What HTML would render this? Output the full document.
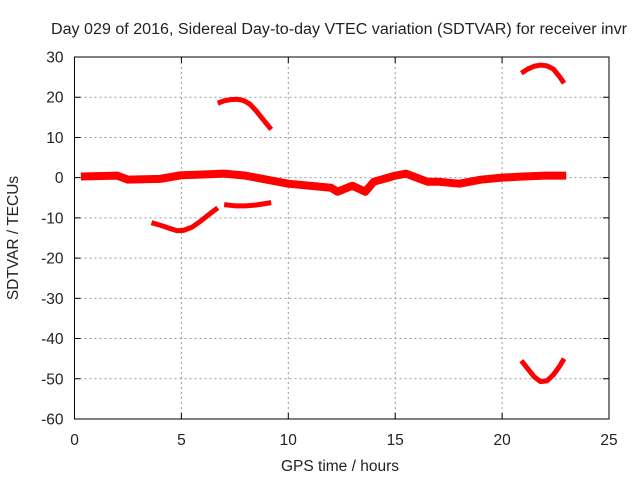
<!DOCTYPE html>
<html><head><meta charset="utf-8"><style>
body{margin:0;background:#fff}
svg{display:block;font-family:"Liberation Sans",sans-serif;font-size:15.5px;fill:#222}
</style></head><body>
<svg id="chart" width="640" height="480" viewBox="0 0 640 480">
<text x="339" y="34" text-anchor="middle" textLength="576" lengthAdjust="spacingAndGlyphs">Day 029 of 2016, Sidereal Day-to-day VTEC variation (SDTVAR) for receiver invr</text>
<text transform="translate(18,238) rotate(-90)" text-anchor="middle">SDTVAR / TECUs</text>
<text x="340" y="471" text-anchor="middle">GPS time / hours</text>
<g id="grid"></g><g id="series"></g><g id="axes"></g>
</svg>
<script>
const xTicks=[0,5,10,15,20,25];
const yTicks=[30,20,10,0,-10,-20,-30,-40,-50,-60];
const bandT=[0.3,2,2.5,4,5,6,7,8,9,10,11,12,12.3,13,13.6,14,15,15.5,16,16.5,17,18,19,20,21,22,23];
const bandV=[0.3,0.5,-0.5,-0.3,0.6,0.8,1,0.5,-0.5,-1.5,-2,-2.5,-3.5,-2,-3.5,-1,0.5,1,0,-1,-1,-1.5,-0.5,0,0.3,0.5,0.5];
const arcAT=[6.7,7,7.3,7.6,7.9,8.2,8.5,8.8,9.2];
const arcAV=[18.5,19.1,19.4,19.5,19.2,18.3,16.6,14.6,12];
const arcBT=[3.6,4,4.4,4.8,5.1,5.5,5.9,6.3,6.7];
const arcBV=[-11.2,-11.8,-12.5,-13.2,-13.1,-12.3,-10.8,-9.1,-7.5];
const arcCT=[7,7.5,8,8.5,9.2];
const arcCV=[-6.7,-7,-7,-6.8,-6.2];
const arcDT=[20.9,21.2,21.5,21.8,22.1,22.4,22.7,22.9];
const arcDV=[26,27,27.7,28,27.8,27,25,23.5];
const arcET=[20.9,21.2,21.5,21.8,22.1,22.4,22.7,22.9];
const arcEV=[-45.5,-47.5,-49.5,-50.7,-50.5,-49,-46.8,-45];
const L=74.5,R=609,T=57,B=419;
const sx=v=>L+(v-0)/25*(R-L), sy=v=>T+(30-v)/90*(B-T);
const NS="http://www.w3.org/2000/svg";
function mk(tag,parent){const e=document.createElementNS(NS,tag);document.getElementById(parent).appendChild(e);return e;}
xTicks.forEach(t=>{
 if(t>0&&t<25){const g=mk('line','grid');
 
 
 g.setAttribute('x1',sx(t));g.setAttribute('x2',sx(t));g.setAttribute('y1',T);g.setAttribute('y2',B);
 g.setAttribute('stroke','#999');g.setAttribute('stroke-dasharray','2,3');}
 const tk=mk('path','axes');
 
 
 tk.setAttribute('d',`M${sx(t)} ${B}v-6M${sx(t)} ${T}v6`);tk.setAttribute('stroke','#000');
 const lb=mk('text','axes');
 
 
 lb.setAttribute('x',sx(t));lb.setAttribute('y',B+26);lb.setAttribute('text-anchor','middle');lb.textContent=t;
});
yTicks.forEach(t=>{
 if(t<30&&t>-60){const g=mk('line','grid');
 
 
 g.setAttribute('x1',L);g.setAttribute('x2',R);g.setAttribute('y1',sy(t));g.setAttribute('y2',sy(t));
 g.setAttribute('stroke','#999');g.setAttribute('stroke-dasharray','2,3');}
 const tk=mk('path','axes');
 
 
 tk.setAttribute('d',`M${L} ${sy(t)}h6M${R} ${sy(t)}h-6`);tk.setAttribute('stroke','#000');
 const lb=mk('text','axes');
 
 
 lb.setAttribute('x',L-11);lb.setAttribute('y',sy(t)+5.5);lb.setAttribute('text-anchor','end');lb.textContent=t;
});
const fr=mk('rect','axes');


fr.setAttribute('x',L);fr.setAttribute('y',T);fr.setAttribute('width',R-L);fr.setAttribute('height',B-T);
fr.setAttribute('fill','none');fr.setAttribute('stroke','#000');
function line(ts,vs,w,name){
 const p=mk('polyline','series');
 
 
 p.setAttribute('points',ts.map((t,i)=>sx(t)+','+sy(vs[i])).join(' '));
 p.setAttribute('fill','none');p.setAttribute('stroke','#f00');p.setAttribute('stroke-width',w);
 p.setAttribute('stroke-linejoin','round');
}
line(bandT,bandV,8,'main-band-series');
line(arcAT,arcAV,5,'arc-positive-early');
line(arcBT,arcBV,5,'arc-negative-early');
line(arcCT,arcCV,5,'arc-negative-mid');
line(arcDT,arcDV,5,'arc-positive-late');
line(arcET,arcEV,5,'arc-negative-late');
</script>
</body></html>
